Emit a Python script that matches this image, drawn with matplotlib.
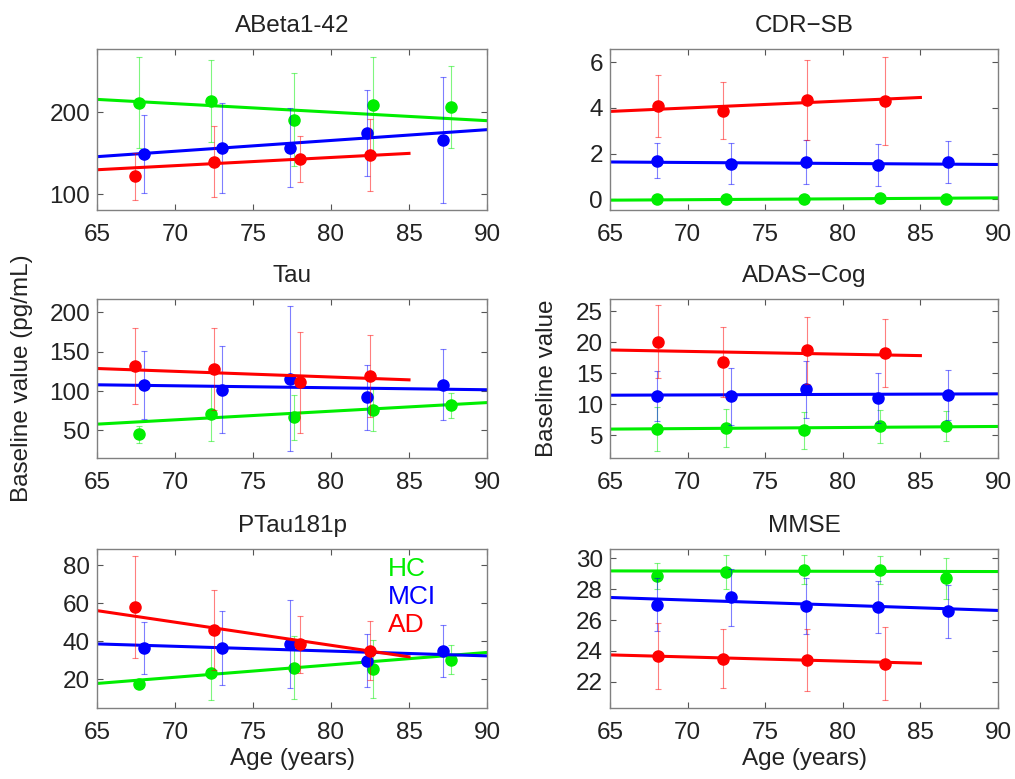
import numpy as np
import matplotlib
matplotlib.use("Agg")
import matplotlib.pyplot as plt

plt.rcParams['font.family'] = ['Liberation Sans', 'DejaVu Sans']

groups = ["HC", "MCI", "AD"]
colors = {"HC": "#00ee00", "MCI": "#0000ff", "AD": "#ff0000"}

# mean age per age bin (CSF subset for left column, clinical for right column)
age_csf = {"HC": [67.7, 72.3, 77.65, 82.7, 87.7],
           "MCI": [68.0, 73.0, 77.4, 82.3, 87.15],
           "AD": [67.45, 72.5, 78.0, 82.5]}
age_clin = {"HC": [68.0, 72.5, 77.5, 82.4, 86.65],
            "MCI": [68.05, 72.8, 77.6, 82.3, 86.8],
            "AD": [68.1, 72.3, 77.7, 82.7]}

# fitted line range per group
fit_x = {"HC": [65, 90], "MCI": [65, 90], "AD": [65, 85]}

# ABeta1-42
abeta_mean = {"HC": [212, 214, 191, 209, 207], "MCI": [149, 157, 157, 175, 166], "AD": [122, 140, 143, 148]}
abeta_sd = {"HC": [56, 50, 57, 59, 50], "MCI": [48, 55, 48, 53, 77], "AD": [29, 43, 28, 44]}
abeta_fit = {"HC": [216, 190], "MCI": [146, 179], "AD": [130, 150]}

# CDR-SB
cdr_mean = {"HC": [0.0, 0.0, 0.02, 0.07, 0.02], "MCI": [1.69, 1.55, 1.63, 1.5, 1.63], "AD": [4.09, 3.88, 4.32, 4.31]}
cdr_sd = {"HC": [0.04, 0.04, 0.05, 0.08, 0.05], "MCI": [0.78, 0.9, 0.95, 0.9, 0.9], "AD": [1.35, 1.23, 1.75, 1.93]}
cdr_fit = {"HC": [-0.04, 0.06], "MCI": [1.63, 1.52], "AD": [3.84, 4.45]}

# Tau
tau_mean = {"HC": [45, 71, 67, 76, 82], "MCI": [108, 102, 116, 92, 108], "AD": [132, 128, 111, 119]}
tau_sd = {"HC": [10.5, 35, 28.5, 27, 16], "MCI": [43, 55, 92, 41, 45], "AD": [48, 52, 64, 52]}
tau_fit = {"HC": [58, 85.4], "MCI": [108, 101.7], "AD": [128.7, 114.3]}

# ADAS-Cog
adas_mean = {"HC": [6.0, 6.2, 5.8, 6.4, 6.5], "MCI": [11.3, 11.3, 12.4, 11.0, 11.5], "AD": [20.1, 16.8, 18.7, 18.3]}
adas_sd = {"HC": [3.5, 3.1, 3.0, 2.6, 2.4], "MCI": [4.1, 4.6, 4.6, 4.1, 4.1], "AD": [5.9, 5.6, 5.4, 5.5]}
adas_fit = {"HC": [5.97, 6.4], "MCI": [11.45, 11.67], "AD": [18.76, 17.85]}

# PTau181p
ptau_mean = {"HC": [17.8, 23.2, 26.2, 25.5, 30.4], "MCI": [36.5, 36.5, 38.6, 29.8, 34.9], "AD": [58.3, 45.8, 38.6, 35.1]}
ptau_sd = {"HC": [2.5, 14, 16.5, 15, 7.7], "MCI": [13.5, 19.5, 23, 14, 13.5], "AD": [26.8, 21, 15, 15.5]}
ptau_fit = {"HC": [17.9, 34.2], "MCI": [38.7, 32.4], "AD": [56.2, 31.9]}

# MMSE
mmse_mean = {"HC": [28.86, 29.1, 29.27, 29.25, 28.69], "MCI": [26.99, 27.48, 26.92, 26.84, 26.56], "AD": [23.68, 23.5, 23.42, 23.18]}
mmse_sd = {"HC": [0.84, 1.1, 0.93, 0.9, 1.3], "MCI": [1.7, 1.84, 1.8, 1.7, 1.7], "AD": [2.15, 1.9, 2.0, 2.37]}
mmse_fit = {"HC": [29.18, 29.14], "MCI": [27.46, 26.62], "AD": [23.74, 23.2]}

panels = [
    ("ABeta1-42", age_csf, abeta_mean, abeta_sd, abeta_fit, (80.8, 277.6), [100, 200]),
    ("CDR\u2212SB", age_clin, cdr_mean, cdr_sd, cdr_fit, (-0.47, 6.57), [0, 2, 4, 6]),
    ("Tau", age_csf, tau_mean, tau_sd, tau_fit, (15, 217), [50, 100, 150, 200]),
    ("ADAS\u2212Cog", age_clin, adas_mean, adas_sd, adas_fit, (1.3, 27.0), [5, 10, 15, 20, 25]),
    ("PTau181p", age_csf, ptau_mean, ptau_sd, ptau_fit, (5, 88.6), [20, 40, 60, 80]),
    ("MMSE", age_clin, mmse_mean, mmse_sd, mmse_fit, (20.3, 30.6), [22, 24, 26, 28, 30]),
]

W, H = 1015, 779
fig = plt.figure(figsize=(W / 100, H / 100), dpi=100)

col_x = [(97, 487), (610, 998)]
row_y = [(49, 210), (299, 458), (549, 708)]
fs = 17.5
txt = "#222222"

axes = []
for i, (title, ages, mean, sd, fit, ylim, yticks) in enumerate(panels):
    r, c = divmod(i, 2)
    x0, x1 = col_x[c]
    y0, y1 = row_y[r]
    ax = fig.add_axes([x0 / W, 1 - y1 / H, (x1 - x0) / W, (y1 - y0) / H])
    for g in groups:
        col = colors[g]
        ax.errorbar(ages[g], mean[g], yerr=sd[g], fmt="none", ecolor=col,
                    elinewidth=0.8, capsize=2.5, capthick=0.8, alpha=0.5)
        ax.plot(ages[g], mean[g], "o", color=col, markersize=8)
        ax.plot(fit_x[g], fit[g], "-", color=col, linewidth=2.2)
    ax.set_xlim(65, 90)
    ax.set_ylim(*ylim)
    ax.set_xticks([65, 70, 75, 80, 85, 90])
    ax.set_yticks(yticks)
    ax.set_title(title, fontsize=fs, pad=12, color=txt)
    ax.tick_params(direction="in", top=True, right=True, length=4, width=0.8,
                   color="#555555", labelsize=fs, labelcolor=txt, pad=5)
    ax.tick_params(axis="x", pad=10)
    for s in ax.spines.values():
        s.set_color("#808080")
        s.set_linewidth(1.0)
    if r == 2:
        ax.set_xlabel("Age (years)", fontsize=fs, color=txt, labelpad=3)
    axes.append(ax)

# legend as coloured text in the PTau panel
for g, yy in zip(groups, [0.872, 0.70, 0.522]):
    axes[4].text(0.746, yy, g, color=colors[g], fontsize=19,
                 transform=axes[4].transAxes, va="center", ha="left")

fig.text(22 / W, 1 - 378 / H, "Baseline value (pg/mL)", rotation=90,
         fontsize=fs, color=txt, ha="center", va="center")
fig.text(547 / W, 1 - 378 / H, "Baseline value", rotation=90,
         fontsize=fs, color=txt, ha="center", va="center")

fig.savefig("out.png", dpi=100)
